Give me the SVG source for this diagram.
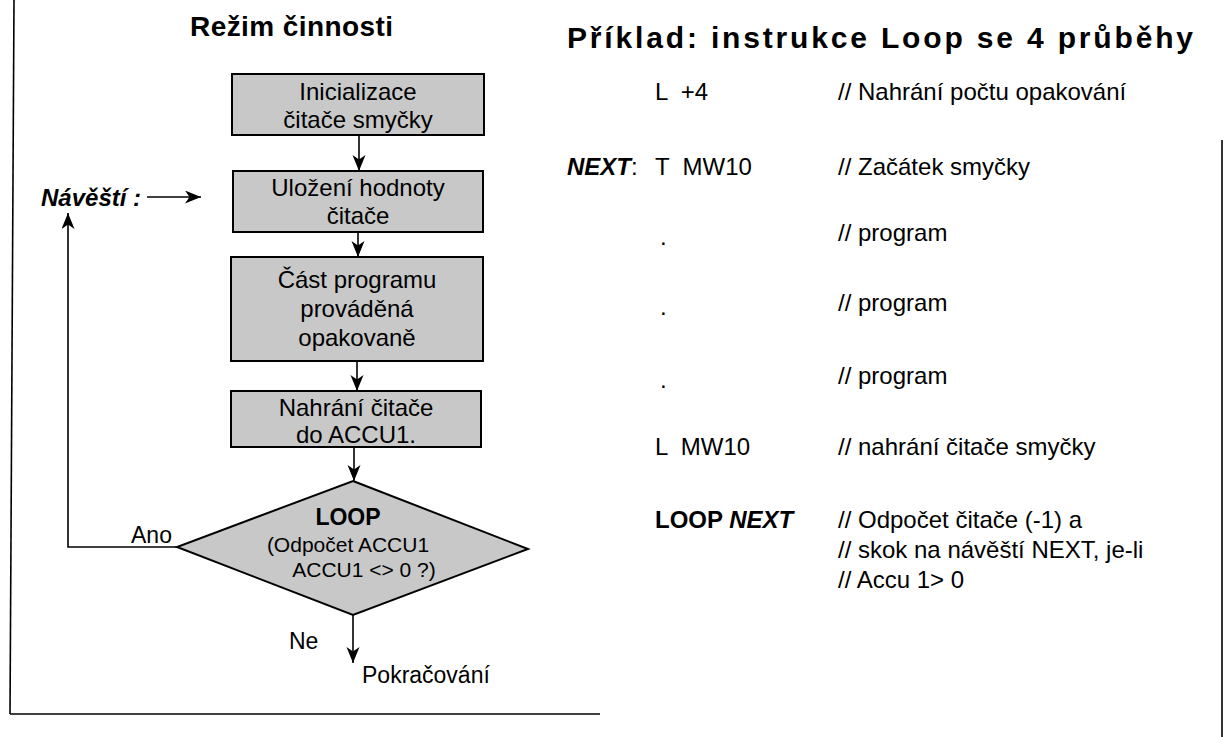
<svg xmlns="http://www.w3.org/2000/svg" width="1224" height="737" viewBox="0 0 1224 737">
<style>
text{font-family:"Liberation Sans",Arial,sans-serif;fill:#000}
.title{font-size:28px;font-weight:bold}
.box{fill:#c8c8c8;stroke:#000;stroke-width:2}
.bt{font-size:24px;text-anchor:middle}
.lbl{font-size:23px}
.code{font-size:24px}
.conn{fill:none;stroke:#000;stroke-width:1.6}
.frame{fill:none;stroke:#000;stroke-width:1.6}
</style>
<defs>
<marker id="ah" markerUnits="userSpaceOnUse" markerWidth="18" markerHeight="14" refX="16" refY="6.5" orient="auto">
<path d="M0,0 L16,6.5 L0,13 L4.5,6.5 z" fill="#000"/>
</marker>
</defs>
<rect width="1224" height="737" fill="#fff"/>
<g id="frame">
<line class="frame" x1="14" y1="0" x2="10" y2="714"/>
<line class="frame" x1="10" y1="714" x2="600" y2="714"/>
<line class="frame" x1="1222" y1="140" x2="1222" y2="737"/>
</g>
<text class="title" x="190" y="36" textLength="203" lengthAdjust="spacing">Režim činnosti</text>
<text class="title" x="567" y="48" style="font-size:30px" textLength="626" lengthAdjust="spacing">Příklad: instrukce Loop se 4 průběhy</text>

<g id="connectors">
<line class="conn" x1="359" y1="135" x2="359" y2="171" marker-end="url(#ah)"/>
<line class="conn" x1="358" y1="232" x2="358" y2="257" marker-end="url(#ah)"/>
<line class="conn" x1="357" y1="361" x2="357" y2="391" marker-end="url(#ah)"/>
<line class="conn" x1="354" y1="447" x2="354" y2="481" marker-end="url(#ah)"/>
<line class="conn" x1="353" y1="615" x2="353" y2="663" marker-end="url(#ah)"/>
<polyline class="conn" points="177,547 68,547 68,213" marker-end="url(#ah)"/>
<line class="conn" x1="147" y1="197" x2="201" y2="197" marker-end="url(#ah)"/>
</g>

<g id="n1">
<rect class="box" x="232" y="74" width="252" height="61"/>
<text class="bt" x="358" y="100">Inicializace</text>
<text class="bt" x="358" y="128">čitače smyčky</text>
</g>
<g id="n2">
<rect class="box" x="233" y="171" width="250" height="61"/>
<text class="bt" x="358" y="196">Uložení hodnoty</text>
<text class="bt" x="358" y="224">čitače</text>
</g>
<g id="n3">
<rect class="box" x="231" y="257" width="252" height="104"/>
<text class="bt" x="357" y="288">Část programu</text>
<text class="bt" x="357" y="317">prováděná</text>
<text class="bt" x="357" y="346">opakovaně</text>
</g>
<g id="n4">
<rect class="box" x="231" y="391" width="250" height="56"/>
<text class="bt" x="356" y="416">Nahrání čitače</text>
<text class="bt" x="356" y="443">do ACCU1.</text>
</g>
<g id="n5">
<polygon class="box" points="353,481 528,549 353,615 177,547"/>
<text x="348" y="525" text-anchor="middle" style="font-size:23px;font-weight:bold">LOOP</text>
<text x="348" y="552" text-anchor="middle" style="font-size:21px">(Odpočet ACCU1</text>
<text x="364" y="577" text-anchor="middle" style="font-size:21px">ACCU1 &lt;&gt; 0 ?)</text>
</g>
<g id="labels">
<text x="41" y="206" style="font-size:24px;font-weight:bold;font-style:italic">Návěští :</text>
<text class="lbl" x="131" y="543">Ano</text>
<text class="lbl" x="289" y="649">Ne</text>
<text class="lbl" x="362" y="683">Pokračování</text>
</g>

<g id="code">
<text class="code" x="655" y="100" xml:space="preserve">L  +4</text>
<text class="code" x="838" y="100">// Nahrání počtu opakování</text>
<text class="code" x="567" y="175"><tspan font-weight="bold" font-style="italic">NEXT</tspan>:</text>
<text class="code" x="655" y="175" xml:space="preserve">T  MW10</text>
<text class="code" x="838" y="175">// Začátek smyčky</text>
<text class="code" x="660" y="245">.</text>
<text class="code" x="838" y="241">// program</text>
<text class="code" x="660" y="315">.</text>
<text class="code" x="838" y="311">// program</text>
<text class="code" x="660" y="388">.</text>
<text class="code" x="838" y="384">// program</text>
<text class="code" x="655" y="455" xml:space="preserve">L  MW10</text>
<text class="code" x="838" y="455">// nahrání čitače smyčky</text>
<text class="code" x="655" y="528" font-weight="bold">LOOP <tspan font-style="italic">NEXT</tspan></text>
<text class="code" x="838" y="528">// Odpočet čitače (-1) a</text>
<text class="code" x="838" y="558">// skok na návěští NEXT, je-li</text>
<text class="code" x="838" y="588">// Accu 1&gt; 0</text>
</g>
</svg>
